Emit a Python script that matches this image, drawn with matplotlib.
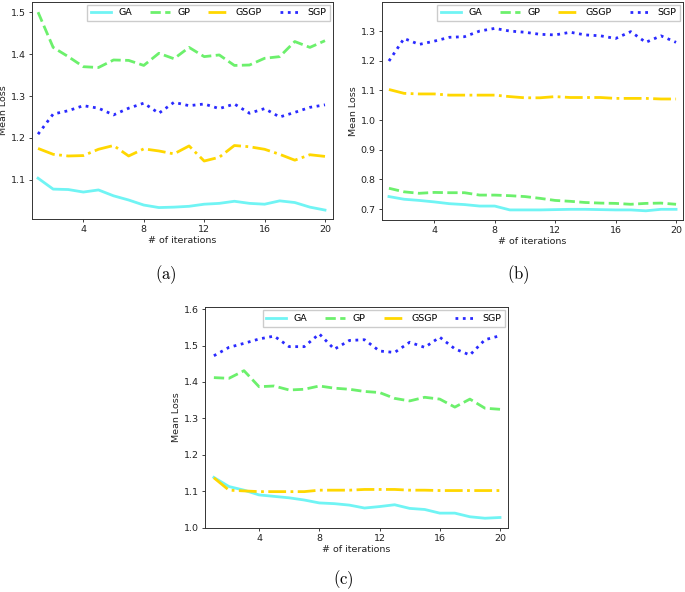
import matplotlib
matplotlib.use("Agg")
import matplotlib.pyplot as plt

plt.rcParams['mathtext.fontset'] = 'cm'

iters = list(range(1, 21))
methods = ['GA', 'GP', 'GSGP', 'SGP']

# (a)
a_ga = [1.104, 1.078, 1.077, 1.071, 1.076, 1.062, 1.052, 1.040, 1.034, 1.035,
        1.037, 1.042, 1.044, 1.049, 1.044, 1.042, 1.050, 1.046, 1.035, 1.028]
a_gp = [1.500, 1.416, 1.394, 1.370, 1.368, 1.386, 1.385, 1.373, 1.402, 1.389,
        1.416, 1.394, 1.398, 1.373, 1.374, 1.390, 1.394, 1.430, 1.416, 1.432]
a_gsgp = [1.175, 1.161, 1.157, 1.158, 1.173, 1.182, 1.157, 1.174, 1.169, 1.162,
          1.181, 1.145, 1.154, 1.182, 1.179, 1.173, 1.161, 1.147, 1.160, 1.156]
a_sgp = [1.209, 1.257, 1.265, 1.277, 1.271, 1.255, 1.271, 1.283, 1.259, 1.285,
         1.277, 1.281, 1.270, 1.281, 1.259, 1.270, 1.250, 1.261, 1.273, 1.279]

# (b)
b_ga = [0.742, 0.733, 0.729, 0.724, 0.718, 0.715, 0.710, 0.710, 0.697, 0.697,
        0.697, 0.698, 0.699, 0.699, 0.698, 0.697, 0.697, 0.694, 0.699, 0.699]
b_gp = [0.770, 0.758, 0.753, 0.756, 0.755, 0.755, 0.747, 0.747, 0.745, 0.742,
        0.736, 0.729, 0.726, 0.722, 0.720, 0.719, 0.716, 0.719, 0.720, 0.716]
b_gsgp = [1.103, 1.090, 1.088, 1.088, 1.084, 1.084, 1.084, 1.084, 1.079, 1.075,
          1.075, 1.079, 1.076, 1.076, 1.076, 1.073, 1.073, 1.073, 1.071, 1.071]
b_sgp = [1.199, 1.275, 1.255, 1.266, 1.279, 1.281, 1.300, 1.309, 1.300, 1.296,
         1.289, 1.287, 1.296, 1.287, 1.284, 1.275, 1.298, 1.262, 1.284, 1.262]

# (c)
c_ga = [1.138, 1.113, 1.103, 1.090, 1.086, 1.082, 1.076, 1.068, 1.066, 1.062,
        1.054, 1.058, 1.063, 1.053, 1.050, 1.040, 1.040, 1.030, 1.026, 1.028]
c_gp = [1.412, 1.410, 1.431, 1.387, 1.389, 1.378, 1.380, 1.389, 1.383, 1.380,
        1.374, 1.371, 1.355, 1.348, 1.358, 1.353, 1.331, 1.353, 1.328, 1.325]
c_gsgp = [1.137, 1.103, 1.101, 1.099, 1.099, 1.099, 1.099, 1.103, 1.103, 1.103,
          1.105, 1.105, 1.105, 1.103, 1.103, 1.102, 1.102, 1.102, 1.102, 1.102]
c_sgp = [1.472, 1.495, 1.506, 1.518, 1.526, 1.497, 1.497, 1.532, 1.490, 1.514,
         1.516, 1.485, 1.481, 1.509, 1.495, 1.523, 1.491, 1.474, 1.516, 1.527]

colors = ['#70f4f4', '#6cf06c', '#ffd700', '#2a2aff']
styles = ['-', '--', '-.', ':']

W, H = 685, 592
fig = plt.figure(figsize=(W / 100, H / 100), dpi=100)

def px_axes(left, top, right, bottom):
    return fig.add_axes([left / W, 1 - bottom / H, (right - left) / W, (bottom - top) / H])

panels = [
    (px_axes(31.7, 1.7, 332.7, 219.3), [a_ga, a_gp, a_gsgp, a_sgp], (0.58, 20.51), (1.006, 1.525), '(a)', (165.7, 275)),
    (px_axes(381.7, 1.7, 683, 220), [b_ga, b_gp, b_gsgp, b_sgp], (0.52, 20.46), (0.663, 1.399), '(b)', (518, 275)),
    (px_axes(205, 307.3, 508.3, 527.7), [c_ga, c_gp, c_gsgp, c_sgp], (0.41, 20.55), (1.0, 1.605), '(c)', (343, 580)),
]

fs = 6.8
for ax, series, xl, yl, cap, cpos in panels:
    for name, vals, c, ls in zip(methods, series, colors, styles):
        ax.plot(iters, vals, color=c, linestyle=ls, linewidth=2, label=name)
    ax.set_xlim(*xl)
    ax.set_ylim(*yl)
    ax.set_xticks([4, 8, 12, 16, 20])
    ax.tick_params(labelsize=fs, length=2.2, width=0.6, pad=2, colors='#222222')
    for s in ax.spines.values():
        s.set_linewidth(0.7)
        s.set_color('#333333')
    ax.set_xlabel('# of iterations', fontsize=fs, labelpad=1.5, color='#222222')
    ax.set_ylabel('Mean Loss', fontsize=fs, labelpad=2, color='#222222')
    ax.legend(loc='upper right', ncol=4, fontsize=fs, handlelength=2.1,
              columnspacing=1.9, borderaxespad=0.3, fancybox=False,
              edgecolor='#cccccc', framealpha=1)
    fig.text(cpos[0] / W, 1 - cpos[1] / H, r'$\mathrm{' + cap + '}$',
             fontsize=12, ha='center', va='center')

fig.savefig('out.png', dpi=100)
